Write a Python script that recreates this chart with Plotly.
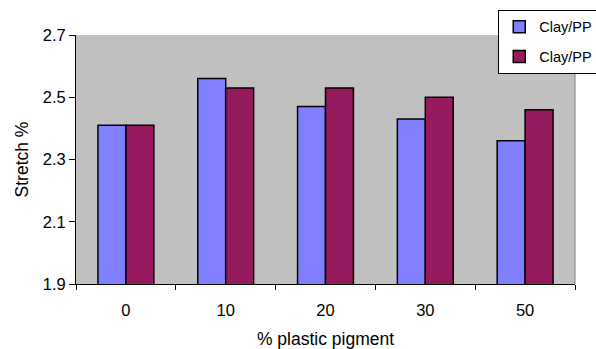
import plotly.graph_objects as go

categories = ["0", "10", "20", "30", "50"]
series1_name = "Clay/PP"
series1 = [2.41, 2.56, 2.47, 2.43, 2.36]
series2_name = "Clay/PP"
series2 = [2.41, 2.53, 2.53, 2.50, 2.46]
y_ticks = [1.9, 2.1, 2.3, 2.5, 2.7]

fig = go.Figure()
fig.add_trace(go.Bar(x=categories, y=series1, name=series1_name, legendgroup="a",
                     marker=dict(color="#8080FF", line=dict(color="#000000", width=1.5))))
fig.add_trace(go.Bar(x=categories, y=series2, name=series2_name, legendgroup="b",
                     marker=dict(color="#961A5E", line=dict(color="#000000", width=1.5))))

fig.update_layout(
    width=596, height=349,
    margin=dict(l=76, r=21, t=35, b=65, autoexpand=False),
    paper_bgcolor="white", plot_bgcolor="#C0C0C0",
    barmode="group", bargap=0.44, bargroupgap=0,
    font=dict(family="Liberation Sans, Arial, sans-serif", size=16.5, color="#000000"),
    legend=dict(xref="container", yref="container", x=0.836, y=0.972,
                xanchor="left", yanchor="top", bgcolor="white",
                bordercolor="#000000", borderwidth=1,
                font=dict(size=14.5), traceorder="grouped", tracegroupgap=8,
                itemwidth=30),
    showlegend=True,
)
fig.update_xaxes(type="category", showline=True, linecolor="#000000", linewidth=1,
                 ticks="outside", tickson="boundaries", ticklen=5, tickcolor="#000000",
                 showgrid=False, ticklabelstandoff=11, tickfont=dict(size=16.5),
                 title=dict(text="% plastic pigment", standoff=16, font=dict(size=17.5)))
fig.update_yaxes(range=[1.9, 2.7], tickvals=y_ticks, ticktext=[f"{v:.1f}" for v in y_ticks],
                 showline=True, linecolor="#000000", linewidth=1,
                 ticks="outside", ticklen=6, tickcolor="#000000", tickfont=dict(size=16.5),
                 showgrid=False, zeroline=False,
                 title=dict(text="Stretch %", standoff=9, font=dict(size=17.5)))
fig.add_shape(type="line", xref="paper", yref="paper", x0=1, x1=1, y0=0, y1=1,
              line=dict(color="#808080", width=1))

fig.write_html("out.html")
